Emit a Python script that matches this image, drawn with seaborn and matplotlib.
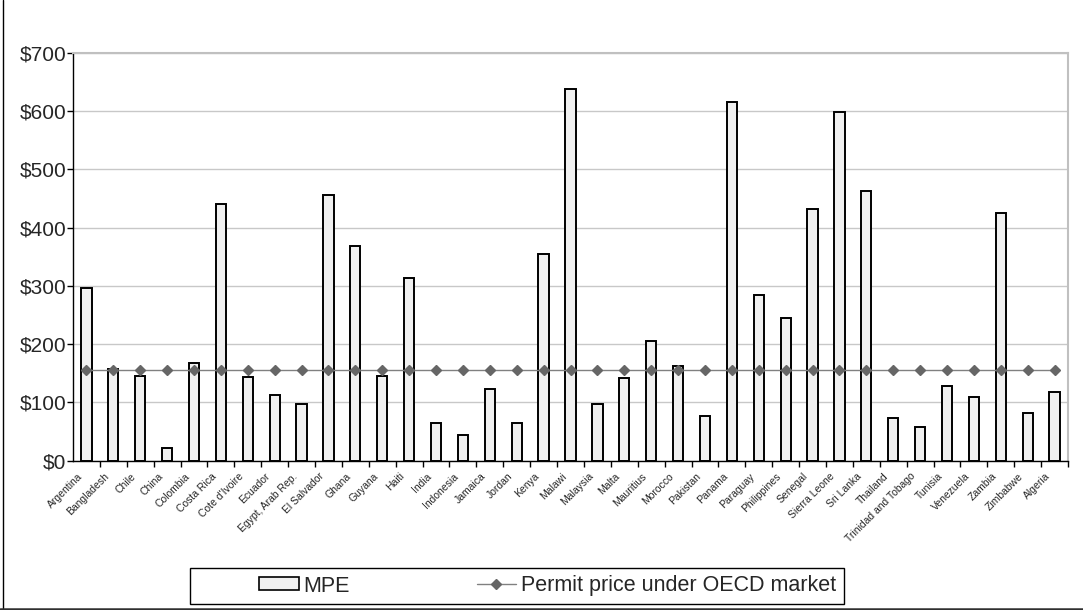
import matplotlib
matplotlib.use("Agg")
import matplotlib.pyplot as plt
import seaborn as sns
import pandas as pd
from matplotlib.patches import Patch, Rectangle
from matplotlib.lines import Line2D
from matplotlib.ticker import FuncFormatter, MultipleLocator, FixedLocator
from matplotlib.transforms import ScaledTranslation

countries = ["Argentina", "Bangladesh", "Chile", "China", "Colombia", "Costa Rica",
             "Cote d'Ivoire", "Ecuador", "Egypt, Arab Rep.", "El Salvador", "Ghana",
             "Guyana", "Haiti", "India", "Indonesia", "Jamaica", "Jordan", "Kenya",
             "Malawi", "Malaysia", "Malta", "Mauritius", "Morocco", "Pakistan", "Panama",
             "Paraguay", "Philippines", "Senegal", "Sierra Leone", "Sri Lanka", "Thailand",
             "Trinidad and Tobago", "Tunisia", "Venezuela", "Zambia", "Zimbabwe", "Algeria"]
mpe = [296, 157, 146, 21, 168, 440, 144, 112, 98, 455, 369, 146, 314, 65, 44, 123, 65,
       355, 637, 98, 142, 206, 162, 77, 615, 285, 244, 432, 599, 463, 73, 57, 128, 110,
       425, 82, 118]
permit = [156] * len(countries)

sns.set_style("white")
plt.rcParams['font.family'] = ['Liberation Sans', 'DejaVu Sans']

fig = plt.figure(figsize=(10.83, 6.10), dpi=100)
ax = fig.add_axes([73/1083, 1 - 460.7/610, (1068 - 73)/1083, (460.7 - 52.7)/610])

df = pd.DataFrame({"country": countries, "MPE": mpe})
sns.barplot(data=df, x="country", y="MPE", ax=ax, color="#f0f0f0", saturation=1,
            edgecolor="black", linewidth=1.4, width=0.38, zorder=3)
ax.plot(range(len(countries)), permit, color="#808080", lw=1.0, marker="D",
        markersize=5, markerfacecolor="#666666", markeredgecolor="#666666", zorder=4)

ax.set_xlim(-0.5, len(countries) - 0.5)
ax.set_ylim(0, 700)
ax.yaxis.set_major_locator(MultipleLocator(100))
ax.yaxis.set_major_formatter(FuncFormatter(lambda v, p: f"${int(v)}"))
ax.grid(axis="y", color="#c8c8c8", lw=1.0, zorder=0)
ax.set_axisbelow(True)
ax.set_xlabel("")
ax.set_ylabel("")

ax.set_xticks(range(len(countries)))
ax.set_xticklabels(countries, rotation=45, ha="right", va="center",
                   rotation_mode="anchor", fontsize=7.5)
ax.tick_params(axis="x", which="major", length=0, pad=10)
offset = ScaledTranslation(-6/100, 0, fig.dpi_scale_trans)
for lbl in ax.get_xticklabels():
    lbl.set_transform(lbl.get_transform() + offset)
ax.xaxis.set_minor_locator(FixedLocator([i + 0.5 for i in range(len(countries))]))
ax.tick_params(axis="x", which="minor", length=4, width=1, color="black", direction="out", bottom=True)
ax.tick_params(axis="y", length=4, width=1, color="black", direction="out", left=True,
               labelsize=15, pad=1)

for s in ["left", "bottom"]:
    ax.spines[s].set_color("black")
    ax.spines[s].set_linewidth(1.0)
for s in ["top", "right"]:
    ax.spines[s].set_color("#c0c0c0")
    ax.spines[s].set_linewidth(1.5)

# legend box
fig.patches.append(Rectangle((190/1083, 6/610), (844 - 190)/1083, (604 - 568)/610,
                             transform=fig.transFigure, facecolor="white",
                             edgecolor="black", lw=1.0))
handles = [Patch(facecolor="#f0f0f0", edgecolor="black", lw=1.2),
           Line2D([0], [0], color="#808080", lw=1.0, marker="D", markersize=5,
                  markerfacecolor="#666666", markeredgecolor="#666666")]
fig.legend(handles, ["MPE", "Permit price under OECD market"], loc="center left",
           bbox_to_anchor=(259/1083, 1 - 586/610), ncol=2, frameon=False,
           fontsize=15.5, handlelength=1.85, handleheight=0.55, handletextpad=0.2,
           columnspacing=5.9, borderpad=0, borderaxespad=0)

# outer frame lines
fig.add_artist(Line2D([3/1083, 3/1083], [1.5/610, 1], transform=fig.transFigure,
                      color="black", lw=1.0))
fig.add_artist(Line2D([0, 1], [1.5/610, 1.5/610], transform=fig.transFigure,
                      color="#303030", lw=1.8))

fig.savefig("out.png", dpi=100)
